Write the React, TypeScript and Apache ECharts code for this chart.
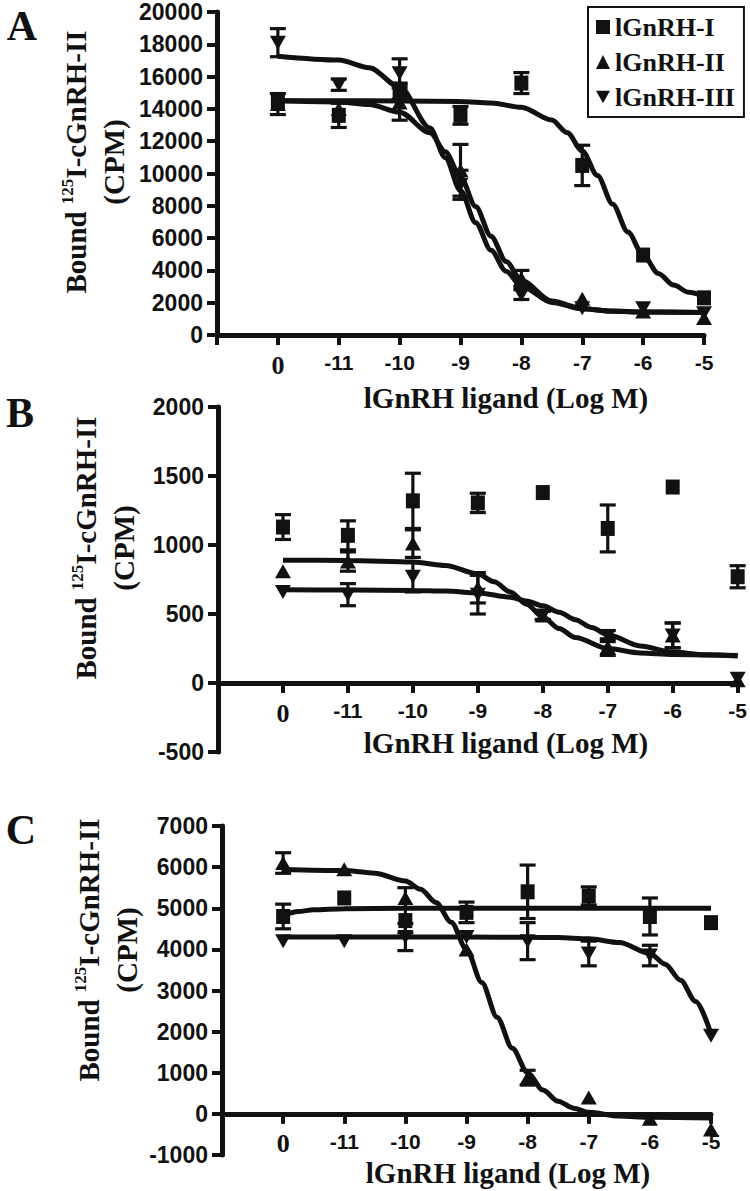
import { useEffect, useRef } from 'react';
import * as echarts from 'echarts';

const INK = '#111111';
const SERIF = 'Liberation Serif, Times New Roman, serif';
const SANS = 'Liberation Sans, Arial, sans-serif';

// x positions (category slots) and their tick labels
const xTickLabels = ['', '0', '-11', '-10', '-9', '-8', '-7', '-6', '-5'];
const doses = [1, 2, 3, 4, 5, 6, 7, 8];
const ligandNames = ['lGnRH-I', 'lGnRH-II', 'lGnRH-III'];

// ---------- Panel A ----------
const aI = [14400, 13600, 15100, 13600, 15600, 10500, 4950, 2300];
const aIErr = [null, 750, 500, 550, 650, 1250, null, null];
const aII = [14300, 14000, 14400, 10200, 3500, 2250, 1450, 1050];
const aIIErr = [650, null, 1100, 1600, 500, null, null, null];
const aIII = [18100, 15500, 16200, 9300, 2500, 1650, 1650, 1350];
const aIIIErr = [870, 350, 900, 900, 300, null, null, null];
const aFitI = [[1, 14500], [2, 14500], [3, 14495], [4, 14460], [4.5, 14370], [5, 14100], [5.5, 13310], [5.75, 12540], [6, 11400], [6.25, 9870], [6.5, 8100], [6.75, 6370], [7, 4950], [7.25, 3810], [7.5, 3090], [7.75, 2640], [8, 2380]];
const aFitII = [[1, 14500], [2, 14430], [2.5, 14270], [3, 13800], [3.5, 12520], [3.75, 11350], [4, 9790], [4.25, 7950], [4.5, 6120], [4.75, 4550], [5, 3380], [5.5, 2100], [6, 1630], [6.5, 1470], [7, 1420], [8, 1400]];
const aFitIII = [[1, 17265], [2, 17025], [2.5, 16550], [3, 15350], [3.5, 12810], [3.75, 10980], [4, 8940], [4.25, 6955], [4.5, 5250], [4.75, 3944], [5, 3020], [5.5, 2016], [6, 1624], [6.5, 1480], [7, 1430], [8, 1400]];

// ---------- Panel B ----------
const bI = [1130, 1070, 1320, 1305, 1380, 1120, 1420, 770];
const bIErr = [90, 105, 200, 70, null, 170, null, 80];
const bII = [810, 880, 1010, 690, 490, 260, 345, 20];
const bIIErr = [null, 70, 100, 110, 30, 60, 90, null];
const bIII = [660, 640, 770, 640, 490, 340, 345, 30];
const bIIIErr = [null, 80, 110, 140, 30, 40, 90, null];
const bFitI: number[][] = [];
const bFitII = [[1, 890], [2, 888], [3, 877], [3.5, 852], [4, 790], [4.25, 734], [4.5, 660], [4.75, 571], [5, 479], [5.25, 395], [5.5, 329], [6, 250], [6.5, 218], [7, 207], [8, 200]];
const bFitIII = [[1, 675], [2, 674], [3, 671], [3.5, 666], [4, 653], [4.5, 622], [4.75, 595], [5, 559], [5.25, 513], [5.5, 459], [5.75, 403], [6, 350], [6.5, 268], [7, 224], [7.5, 204], [8, 195]];

// ---------- Panel C ----------
const cI = [4800, 5250, 4700, 4900, 5400, 5300, 4800, 4650];
const cIErr = [300, null, 300, 250, 650, 220, 450, null];
const cII = [6100, 5950, 5250, 4000, 880, 400, -120, -380];
const cIIErr = [250, null, 250, null, 180, null, null, null];
const cIII = [4200, 4200, 4300, 4300, 4200, 3900, 3850, 1900];
const cIIIErr = [null, null, 330, null, 450, 300, 250, null];
const cFitI = [[1, 4830], [1.25, 4920], [1.5, 4965], [2, 4990], [3, 5000], [5, 5000], [8, 5000]];
const cFitII = [[1, 5945], [2, 5918], [2.5, 5852], [3, 5660], [3.25, 5460], [3.5, 5140], [3.75, 4660], [4, 4000], [4.25, 3195], [4.5, 2350], [4.75, 1595], [5, 1000], [5.25, 580], [5.5, 306], [5.75, 139], [6, 38], [6.5, -54], [7, -85], [8, -98]];
const cFitIII = [[1, 4300], [2, 4300], [3, 4300], [4, 4300], [5, 4295], [5.5, 4286], [6, 4256], [6.5, 4165], [7, 3900], [7.25, 3640], [7.5, 3250], [7.75, 2730], [8, 1950]];

const yAxesCfg = [
  { min: 0, max: 20000, interval: 2000 },
  { min: -500, max: 2000, interval: 500 },
  { min: -1000, max: 7000, interval: 1000 },
];

const SYMBOLS = ['rect', 'triangle', 'path://M0,0L10,0L5,9Z'];
const SIZES = [[14, 15], [16, 14], [16, 14]];

const errRender = (params: any, api: any) => {
  const x = api.value(0);
  const lo = api.coord([x, api.value(1)]);
  const hi = api.coord([x, api.value(2)]);
  const hw = 8;
  const style = { stroke: INK, lineWidth: 3.2 };
  return {
    type: 'group',
    children: [
      { type: 'line', shape: { x1: lo[0], y1: lo[1], x2: hi[0], y2: hi[1] }, style },
      { type: 'line', shape: { x1: lo[0] - hw, y1: lo[1], x2: lo[0] + hw, y2: lo[1] }, style },
      { type: 'line', shape: { x1: hi[0] - hw, y1: hi[1], x2: hi[0] + hw, y2: hi[1] }, style },
    ],
  };
};

function panelSeries(idx: number, means: number[][], errs: (number | null)[][], fits: number[][][]) {
  const out: any[] = [];
  for (let k = 0; k < 3; k++) {
    const eb: number[][] = [];
    doses.forEach((d, i) => {
      const e = errs[k][i];
      if (e != null) eb.push([d, means[k][i] - e, means[k][i] + e]);
    });
    out.push({
      type: 'custom', xAxisIndex: idx, yAxisIndex: idx, data: eb, renderItem: errRender,
      encode: { x: 0, y: [1, 2] }, z: 2, silent: true,
    });
    if (fits[k].length) {
      out.push({
        type: 'line', xAxisIndex: idx, yAxisIndex: idx, data: fits[k], showSymbol: false, symbol: 'none',
        smooth: 0.3, smoothMonotone: 'x', lineStyle: { color: INK, width: 5 }, z: 3, silent: true,
      });
    }
    out.push({
      type: 'scatter', name: ligandNames[k], xAxisIndex: idx, yAxisIndex: idx,
      data: doses.map((d, i) => [d, means[k][i]]), symbol: SYMBOLS[k], symbolSize: SIZES[k],
      itemStyle: { color: INK, opacity: 1 }, z: 4,
    });
  }
  return out;
}

const grids = [
  { left: 217, top: 12, width: 487, height: 323 },
  { left: 218, top: 407, width: 520, height: 345 },
  { left: 222, top: 826, width: 489, height: 329 },
];

function buildOption() {
  const xAxis = grids.map((g, i) => {
    const c = yAxesCfg[i];
    // distance from grid bottom up to the y = 0 line
    const zeroOffset = -(g.height * (0 - c.min)) / (c.max - c.min);
    return {
      type: 'value', gridIndex: i, min: 0, max: 8, interval: 1, position: 'bottom',
      offset: zeroOffset,
      axisLine: { onZero: false, lineStyle: { color: INK, width: 5 } },
      axisTick: { length: 10, lineStyle: { color: INK, width: 4 } },
      splitLine: { show: false },
      axisLabel: {
        margin: 17, color: INK, fontFamily: SANS, fontWeight: 'bold', fontSize: 21,
        formatter: (v: number) => (v === 1 ? '{s|0}' : xTickLabels[v] ?? ''),
        rich: { s: { fontFamily: SERIF, fontWeight: 'bold', fontSize: 26, color: INK } },
      },
    };
  });
  const yAxis = yAxesCfg.map((c, i) => ({
    type: 'value', gridIndex: i, min: c.min, max: c.max, interval: c.interval,
    axisLine: { show: true, onZero: false, lineStyle: { color: INK, width: 5 } },
    axisTick: { show: true, length: 10, lineStyle: { color: INK, width: 4 } },
    splitLine: { show: false },
    axisLabel: {
      margin: 14, color: INK, fontFamily: SANS, fontWeight: 'bold', fontSize: 23,
      formatter: (v: number) => String(v),
    },
  }));

  const series = [
    ...panelSeries(0, [aI, aII, aIII], [aIErr, aIIErr, aIIIErr], [aFitI, aFitII, aFitIII]),
    ...panelSeries(1, [bI, bII, bIII], [bIErr, bIIErr, bIIIErr], [bFitI, bFitII, bFitIII]),
    ...panelSeries(2, [cI, cII, cIII], [cIErr, cIIErr, cIIIErr], [cFitI, cFitII, cFitIII]),
  ];

  const rich = {
    n: { fontFamily: SERIF, fontWeight: 'bold', fontSize: 29, fill: INK, lineHeight: 34 },
    s: { fontFamily: SERIF, fontWeight: 'bold', fontSize: 17, fill: INK, lineHeight: 20, verticalAlign: 'top' },
  };
  const yTitle = (x: number, y: number) => [
    {
      type: 'text', x, y, rotation: Math.PI / 2,
      style: { text: '{n|Bound }{s|125}{n|I-cGnRH-II}', rich, align: 'center', verticalAlign: 'middle' },
    },
    {
      type: 'text', x: x + 38, y, rotation: Math.PI / 2,
      style: { text: '(CPM)', font: `bold 29px ${SERIF}`, fill: INK, align: 'center', verticalAlign: 'middle' },
    },
  ];
  const xTitle = (x: number, y: number) => ({
    type: 'text', x, y,
    style: { text: 'lGnRH ligand (Log M)', font: `bold 29px ${SERIF}`, fill: INK, align: 'center', verticalAlign: 'middle' },
  });
  const letter = (t: string, x: number, y: number) => ({
    type: 'text', x, y,
    style: { text: t, font: `bold 42px ${SERIF}`, fill: INK, align: 'center', verticalAlign: 'middle' },
  });

  return {
    animation: false,
    backgroundColor: '#ffffff',
    grid: grids,
    xAxis,
    yAxis,
    legend: {
      orient: 'vertical', left: 588, top: 7, selectedMode: false,
      data: [
        { name: ligandNames[0], icon: 'rect' },
        { name: ligandNames[1], icon: 'triangle' },
        { name: ligandNames[2], icon: 'path://M0,0L10,0L5,9Z' },
      ],
      itemWidth: 14, itemHeight: 14, itemGap: 9,
      padding: [7, 9, 7, 8],
      borderColor: INK, borderWidth: 2, backgroundColor: '#ffffff',
      itemStyle: { opacity: 1, color: INK },
      textStyle: { fontFamily: SERIF, fontWeight: 'bold', fontSize: 26, color: INK },
    },
    graphic: [
      letter('A', 22, 26),
      letter('B', 20, 413),
      letter('C', 21, 830),
      ...yTitle(76, 162),
      ...yTitle(86, 548),
      ...yTitle(89, 950),
      xTitle(506, 398),
      xTitle(506, 743),
      xTitle(508, 1173),
    ],
    series,
  };
}

export default function App() {
  const ref = useRef<HTMLDivElement>(null);
  useEffect(() => {
    if (!ref.current) return;
    const chart = echarts.init(ref.current, null, { renderer: 'svg' });
    chart.setOption(buildOption() as any);
    return () => chart.dispose();
  }, []);
  return (
    <div
      ref={ref}
      style={{ position: 'absolute', left: 0, top: 0, width: 750, height: 1191, background: '#fff' }}
    />
  );
}
